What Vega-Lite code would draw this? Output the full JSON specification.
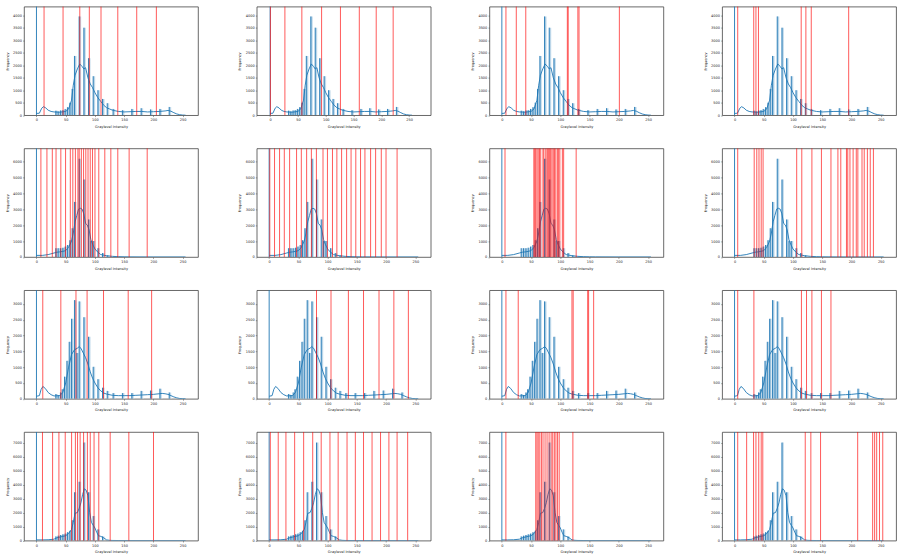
{
  "$schema": "https://vega.github.io/schema/vega-lite/v6.json",
  "padding": {"left": 4, "top": 5.6, "right": 0, "bottom": 0},
  "background": "white",
  "columns": 4,
  "spacing": {"row": 18.8, "column": 37.7},
  "config": {
    "font": "DejaVu Sans",
    "view": {"stroke": "#444", "strokeWidth": 0.8},
    "axis": {"labelFont": "DejaVu Sans", "titleFont": "DejaVu Sans", "labelFontSize": 3.5, "titleFontSize": 3.5, "titleFontWeight": "normal", "labelColor": "#222", "titleColor": "#222", "tickColor": "#444", "tickSize": 1.4, "tickWidth": 0.5, "labelPadding": 1.2, "grid": false, "domain": false, "labelOverlap": false, "labelFlush": false, "format": "d"},
    "axisX": {"minExtent": 7, "maxExtent": 7, "titlePadding": 2.2},
    "axisY": {"minExtent": 12, "maxExtent": 12, "titlePadding": 2.9}
  },
  "datasets": {
    "s1": [{"g":33,"f":180},{"g":37,"f":150},{"g":41,"f":190},{"g":45,"f":200},{"g":49,"f":250},{"g":53,"f":320},{"g":57,"f":500},{"g":61,"f":1050},{"g":65,"f":2370},{"g":73,"f":3950},{"g":81,"f":3500},{"g":89,"f":2280},{"g":97,"f":1560},{"g":105,"f":1000},{"g":113,"f":650},{"g":121,"f":480},{"g":131,"f":250},{"g":147,"f":200},{"g":163,"f":250},{"g":179,"f":280},{"g":195,"f":230},{"g":211,"f":250},{"g":227,"f":330}],
    "c1": [{"g":0,"f":70},{"g":5,"f":80},{"g":9,"f":280},{"g":12,"f":340},{"g":16,"f":290},{"g":20,"f":200},{"g":25,"f":150},{"g":30,"f":130},{"g":40,"f":120},{"g":50,"f":150},{"g":55,"f":250},{"g":60,"f":600},{"g":63,"f":1200},{"g":66,"f":1600},{"g":70,"f":1850},{"g":74,"f":2050},{"g":78,"f":1950},{"g":81,"f":1850},{"g":84,"f":1900},{"g":88,"f":1500},{"g":92,"f":1250},{"g":96,"f":1100},{"g":100,"f":900},{"g":105,"f":700},{"g":110,"f":550},{"g":115,"f":400},{"g":120,"f":300},{"g":125,"f":250},{"g":130,"f":200},{"g":140,"f":150},{"g":150,"f":130},{"g":160,"f":140},{"g":170,"f":150},{"g":180,"f":150},{"g":190,"f":130},{"g":200,"f":140},{"g":210,"f":150},{"g":220,"f":170},{"g":225,"f":190},{"g":230,"f":160},{"g":235,"f":100},{"g":240,"f":50},{"g":245,"f":20},{"g":250,"f":5},{"g":255,"f":0}],
    "s2": [{"g":33,"f":550},{"g":37,"f":550},{"g":41,"f":550},{"g":45,"f":580},{"g":49,"f":650},{"g":53,"f":750},{"g":57,"f":1050},{"g":61,"f":1800},{"g":65,"f":3450},{"g":73,"f":6150},{"g":81,"f":4850},{"g":89,"f":2350},{"g":93,"f":1000},{"g":97,"f":1000},{"g":105,"f":550},{"g":113,"f":250},{"g":121,"f":100}],
    "c2": [{"g":0,"f":100},{"g":10,"f":100},{"g":20,"f":150},{"g":30,"f":250},{"g":35,"f":300},{"g":40,"f":320},{"g":45,"f":350},{"g":50,"f":400},{"g":55,"f":600},{"g":60,"f":1000},{"g":63,"f":1500},{"g":66,"f":2200},{"g":69,"f":2600},{"g":72,"f":3000},{"g":75,"f":3050},{"g":78,"f":3000},{"g":81,"f":2700},{"g":84,"f":2100},{"g":87,"f":2000},{"g":90,"f":1700},{"g":93,"f":1100},{"g":96,"f":800},{"g":100,"f":500},{"g":105,"f":300},{"g":110,"f":150},{"g":120,"f":80},{"g":130,"f":40},{"g":140,"f":20},{"g":150,"f":10},{"g":160,"f":5},{"g":200,"f":0},{"g":255,"f":0}],
    "s3": [{"g":33,"f":150},{"g":37,"f":120},{"g":41,"f":200},{"g":44,"f":300},{"g":48,"f":700},{"g":52,"f":1200},{"g":56,"f":1800},{"g":60,"f":2530},{"g":65,"f":3120},{"g":69,"f":1450},{"g":73,"f":3080},{"g":81,"f":2580},{"g":89,"f":1960},{"g":97,"f":1010},{"g":105,"f":620},{"g":113,"f":350},{"g":121,"f":250},{"g":131,"f":180},{"g":147,"f":180},{"g":163,"f":180},{"g":179,"f":250},{"g":195,"f":260},{"g":211,"f":320},{"g":227,"f":200}],
    "c3": [{"g":0,"f":80},{"g":5,"f":100},{"g":8,"f":300},{"g":11,"f":390},{"g":15,"f":330},{"g":20,"f":200},{"g":25,"f":130},{"g":30,"f":90},{"g":40,"f":100},{"g":45,"f":200},{"g":50,"f":500},{"g":55,"f":1000},{"g":60,"f":1400},{"g":65,"f":1550},{"g":70,"f":1600},{"g":73,"f":1650},{"g":76,"f":1600},{"g":80,"f":1450},{"g":84,"f":1300},{"g":88,"f":1100},{"g":92,"f":850},{"g":96,"f":650},{"g":100,"f":500},{"g":105,"f":350},{"g":110,"f":250},{"g":115,"f":180},{"g":120,"f":150},{"g":130,"f":110},{"g":140,"f":100},{"g":150,"f":100},{"g":160,"f":100},{"g":170,"f":110},{"g":180,"f":120},{"g":190,"f":130},{"g":200,"f":140},{"g":210,"f":160},{"g":215,"f":170},{"g":220,"f":160},{"g":225,"f":140},{"g":230,"f":100},{"g":235,"f":60},{"g":240,"f":30},{"g":245,"f":10},{"g":250,"f":3},{"g":255,"f":0}],
    "s4": [{"g":33,"f":300},{"g":37,"f":350},{"g":41,"f":400},{"g":45,"f":450},{"g":49,"f":500},{"g":53,"f":600},{"g":57,"f":700},{"g":61,"f":1450},{"g":65,"f":3450},{"g":73,"f":4200},{"g":81,"f":7000},{"g":89,"f":3450},{"g":97,"f":1750},{"g":105,"f":800},{"g":113,"f":300}],
    "c4": [{"g":0,"f":50},{"g":10,"f":50},{"g":20,"f":60},{"g":30,"f":100},{"g":35,"f":200},{"g":40,"f":250},{"g":45,"f":300},{"g":50,"f":350},{"g":55,"f":500},{"g":60,"f":800},{"g":63,"f":1300},{"g":66,"f":1950},{"g":70,"f":2000},{"g":73,"f":2300},{"g":76,"f":2700},{"g":79,"f":3300},{"g":82,"f":3700},{"g":85,"f":3600},{"g":88,"f":3200},{"g":91,"f":2000},{"g":94,"f":1300},{"g":97,"f":1100},{"g":100,"f":900},{"g":103,"f":600},{"g":106,"f":350},{"g":110,"f":300},{"g":115,"f":200},{"g":120,"f":50},{"g":125,"f":20},{"g":130,"f":10},{"g":140,"f":5},{"g":150,"f":0},{"g":255,"f":0}],
    "t11": [{"g":13},{"g":45.5},{"g":74.1},{"g":90.4},{"g":110.4},{"g":139.1},{"g":171.5},{"g":205.1}],
    "t12": [{"g":0.5},{"g":26.5},{"g":57},{"g":92.5},{"g":126.4},{"g":160.3},{"g":190.7},{"g":221.2}],
    "t13": [{"g":7},{"g":24.7},{"g":40.9},{"g":112},{"g":113.5},{"g":130},{"g":132},{"g":201}],
    "t14": [{"g":5.4},{"g":32.8},{"g":36.6},{"g":40.9},{"g":114},{"g":122},{"g":131.2},{"g":195.2}],
    "t21": [{"g":7.6},{"g":17.9},{"g":27.1},{"g":33.5},{"g":41.7},{"g":49.8},{"g":57.9},{"g":62.2},{"g":66.6},{"g":70.9},{"g":73.1},{"g":76.8},{"g":80.6},{"g":84.4},{"g":88.2},{"g":92},{"g":95.8},{"g":100.1},{"g":106.6},{"g":116.9},{"g":127.2},{"g":139.1},{"g":158.5},{"g":189.4}],
    "t22": [{"g":1.1},{"g":9.2},{"g":17.8},{"g":25.9},{"g":35},{"g":46.9},{"g":55},{"g":64.1},{"g":72.2},{"g":80.8},{"g":92.1},{"g":99.7},{"g":108.3},{"g":115.8},{"g":123.9},{"g":132.5},{"g":140.1},{"g":148.2},{"g":156.3},{"g":163.8},{"g":173.5},{"g":182.1},{"g":191.8},{"g":199.9},{"g":218.8}],
    "t23": [{"g":5.4},{"g":54.7},{"g":56.3},{"g":57.9},{"g":60.1},{"g":62.2},{"g":64.4},{"g":66.5},{"g":70.3},{"g":71.9},{"g":75.1},{"g":77.3},{"g":78.9},{"g":80.5},{"g":82.1},{"g":83.7},{"g":85.8},{"g":88},{"g":90.1},{"g":92.3},{"g":95},{"g":97.1},{"g":99.2},{"g":103.5},{"g":105.7},{"g":127.1}],
    "t24": [{"g":5.4},{"g":33.6},{"g":38},{"g":41.8},{"g":45.6},{"g":48.8},{"g":106.3},{"g":115},{"g":132.3},{"g":148.6},{"g":164.9},{"g":176.8},{"g":181.7},{"g":191.4},{"g":193.6},{"g":197.4},{"g":202.8},{"g":208.2},{"g":210.9},{"g":218},{"g":221.8},{"g":227.2},{"g":232.1},{"g":237.5}],
    "t31": [{"g":10.8},{"g":41.7},{"g":67.6},{"g":86.6},{"g":114.7},{"g":156.9},{"g":197}],
    "t32": [{"g":81},{"g":105.8},{"g":135.5},{"g":161.4},{"g":187.9},{"g":213.3},{"g":238.1}],
    "t33": [{"g":7},{"g":28},{"g":119.9},{"g":122},{"g":146.8},{"g":148.4},{"g":157}],
    "t34": [{"g":5.4},{"g":33.1},{"g":114.4},{"g":123.1},{"g":132.3},{"g":148.6},{"g":164.9}],
    "t41": [{"g":10.3},{"g":27.6},{"g":38.4},{"g":49.2},{"g":60.1},{"g":66.6},{"g":70.3},{"g":74.7},{"g":80.6},{"g":87.1},{"g":92},{"g":98.5},{"g":106.6},{"g":126.1},{"g":158},{"g":200.2}],
    "t42": [{"g":2},{"g":15.5},{"g":28.7},{"g":43.6},{"g":59},{"g":74.5},{"g":89},{"g":104},{"g":118},{"g":133.2},{"g":147.4},{"g":161.4},{"g":176},{"g":190.5},{"g":204.8},{"g":218.8},{"g":236.9}],
    "t43": [{"g":6.9},{"g":58},{"g":60.1},{"g":62.2},{"g":64.9},{"g":67.7},{"g":70.4},{"g":73.9},{"g":77.3},{"g":80.8},{"g":84.3},{"g":87},{"g":89.8},{"g":92.5},{"g":95.3},{"g":98.1},{"g":121.5}],
    "t44": [{"g":5.4},{"g":20.7},{"g":32.5},{"g":36.6},{"g":41.4},{"g":45.6},{"g":48.3},{"g":120.9},{"g":130.5},{"g":147.1},{"g":210.6},{"g":236.2},{"g":239.6},{"g":243.1},{"g":247.9},{"g":253.5}],
    "bg": [{"g":0}]
  },
  "concat": [
    {"width":174,"height":108.6,"layer":[
      {"data":{"name":"s1"},"mark":{"type":"bar","width":2.4,"xOffset":1.4,"clip":true,"fill":{"gradient":"linear","x1":0,"y1":0,"x2":1,"y2":0,"stops":[{"offset":0,"color":"#1f77b4"},{"offset":1,"color":"#ffffff"}]},"fillOpacity":0.55},
       "encoding":{"x":{"field":"g","type":"quantitative","scale":{"domain":[-12.75,267.75],"nice":false,"zero":false},"axis":{"values":[0,50,100,150,200,250],"title":"Graylevel Intensity","labelOverlap":false}},"y":{"field":"f","type":"quantitative","scale":{"domain":[0,4344],"nice":false},"axis":{"values":[0,500,1000,1500,2000,2500,3000,3500,4000],"title":"Frequency","labelOverlap":false}}}},
      {"data":{"name":"s1"},"mark":{"type":"rule","stroke":"#1f77b4","strokeWidth":0.9,"clip":true},"encoding":{"x":{"field":"g","type":"quantitative","axis":{"values":[0,50,100,150,200,250],"title":"Graylevel Intensity","labelOverlap":false}},"y":{"field":"f","type":"quantitative","axis":{"values":[0,500,1000,1500,2000,2500,3000,3500,4000],"title":"Frequency","labelOverlap":false}},"y2":{"datum":0}}},
      {"data":{"name":"c1"},"mark":{"type":"line","color":"#1f77b4","strokeWidth":0.9,"clip":true},"encoding":{"x":{"field":"g","type":"quantitative","axis":{"values":[0,50,100,150,200,250],"title":"Graylevel Intensity","labelOverlap":false}},"y":{"field":"f","type":"quantitative","axis":{"values":[0,500,1000,1500,2000,2500,3000,3500,4000],"title":"Frequency","labelOverlap":false}}}},
      {"data":{"name":"bg"},"mark":{"type":"rule","stroke":"#1f77b4","strokeWidth":0.9},"encoding":{"x":{"field":"g","type":"quantitative","axis":{"values":[0,50,100,150,200,250],"title":"Graylevel Intensity","labelOverlap":false}}}},
      {"data":{"name":"t11"},"mark":{"type":"rule","stroke":"#ff0000","strokeWidth":1,"strokeOpacity":0.65},"encoding":{"x":{"field":"g","type":"quantitative","axis":{"values":[0,50,100,150,200,250],"title":"Graylevel Intensity","labelOverlap":false}}}}
    ]},
    {"width":174,"height":108.6,"layer":[
      {"data":{"name":"s1"},"mark":{"type":"bar","width":2.4,"xOffset":1.4,"clip":true,"fill":{"gradient":"linear","x1":0,"y1":0,"x2":1,"y2":0,"stops":[{"offset":0,"color":"#1f77b4"},{"offset":1,"color":"#ffffff"}]},"fillOpacity":0.55},
       "encoding":{"x":{"field":"g","type":"quantitative","scale":{"domain":[-15.2,279.7],"nice":false,"zero":false},"axis":{"values":[0,50,100,150,200,250],"title":"Graylevel Intensity","labelOverlap":false}},"y":{"field":"f","type":"quantitative","scale":{"domain":[0,4344],"nice":false},"axis":{"values":[0,500,1000,1500,2000,2500,3000,3500,4000],"title":"Frequency","labelOverlap":false}}}},
      {"data":{"name":"s1"},"mark":{"type":"rule","stroke":"#1f77b4","strokeWidth":0.9,"clip":true},"encoding":{"x":{"field":"g","type":"quantitative","axis":{"values":[0,50,100,150,200,250],"title":"Graylevel Intensity","labelOverlap":false}},"y":{"field":"f","type":"quantitative","axis":{"values":[0,500,1000,1500,2000,2500,3000,3500,4000],"title":"Frequency","labelOverlap":false}},"y2":{"datum":0}}},
      {"data":{"name":"c1"},"mark":{"type":"line","color":"#1f77b4","strokeWidth":0.9,"clip":true},"encoding":{"x":{"field":"g","type":"quantitative","axis":{"values":[0,50,100,150,200,250],"title":"Graylevel Intensity","labelOverlap":false}},"y":{"field":"f","type":"quantitative","axis":{"values":[0,500,1000,1500,2000,2500,3000,3500,4000],"title":"Frequency","labelOverlap":false}}}},
      {"data":{"name":"bg"},"mark":{"type":"rule","stroke":"#1f77b4","strokeWidth":0.9},"encoding":{"x":{"field":"g","type":"quantitative","axis":{"values":[0,50,100,150,200,250],"title":"Graylevel Intensity","labelOverlap":false}}}},
      {"data":{"name":"t12"},"mark":{"type":"rule","stroke":"#ff0000","strokeWidth":1,"strokeOpacity":0.65},"encoding":{"x":{"field":"g","type":"quantitative","axis":{"values":[0,50,100,150,200,250],"title":"Graylevel Intensity","labelOverlap":false}}}}
    ]},
    {"width":174,"height":108.6,"layer":[
      {"data":{"name":"s1"},"mark":{"type":"bar","width":2.4,"xOffset":1.4,"clip":true,"fill":{"gradient":"linear","x1":0,"y1":0,"x2":1,"y2":0,"stops":[{"offset":0,"color":"#1f77b4"},{"offset":1,"color":"#ffffff"}]},"fillOpacity":0.55},
       "encoding":{"x":{"field":"g","type":"quantitative","scale":{"domain":[-12.75,267.75],"nice":false,"zero":false},"axis":{"values":[0,50,100,150,200,250],"title":"Graylevel Intensity","labelOverlap":false}},"y":{"field":"f","type":"quantitative","scale":{"domain":[0,4344],"nice":false},"axis":{"values":[0,500,1000,1500,2000,2500,3000,3500,4000],"title":"Frequency","labelOverlap":false}}}},
      {"data":{"name":"s1"},"mark":{"type":"rule","stroke":"#1f77b4","strokeWidth":0.9,"clip":true},"encoding":{"x":{"field":"g","type":"quantitative","axis":{"values":[0,50,100,150,200,250],"title":"Graylevel Intensity","labelOverlap":false}},"y":{"field":"f","type":"quantitative","axis":{"values":[0,500,1000,1500,2000,2500,3000,3500,4000],"title":"Frequency","labelOverlap":false}},"y2":{"datum":0}}},
      {"data":{"name":"c1"},"mark":{"type":"line","color":"#1f77b4","strokeWidth":0.9,"clip":true},"encoding":{"x":{"field":"g","type":"quantitative","axis":{"values":[0,50,100,150,200,250],"title":"Graylevel Intensity","labelOverlap":false}},"y":{"field":"f","type":"quantitative","axis":{"values":[0,500,1000,1500,2000,2500,3000,3500,4000],"title":"Frequency","labelOverlap":false}}}},
      {"data":{"name":"bg"},"mark":{"type":"rule","stroke":"#1f77b4","strokeWidth":0.9},"encoding":{"x":{"field":"g","type":"quantitative","axis":{"values":[0,50,100,150,200,250],"title":"Graylevel Intensity","labelOverlap":false}}}},
      {"data":{"name":"t13"},"mark":{"type":"rule","stroke":"#ff0000","strokeWidth":1,"strokeOpacity":0.65},"encoding":{"x":{"field":"g","type":"quantitative","axis":{"values":[0,50,100,150,200,250],"title":"Graylevel Intensity","labelOverlap":false}}}}
    ]},
    {"width":174,"height":108.6,"layer":[
      {"data":{"name":"s1"},"mark":{"type":"bar","width":2.4,"xOffset":1.4,"clip":true,"fill":{"gradient":"linear","x1":0,"y1":0,"x2":1,"y2":0,"stops":[{"offset":0,"color":"#1f77b4"},{"offset":1,"color":"#ffffff"}]},"fillOpacity":0.55},
       "encoding":{"x":{"field":"g","type":"quantitative","scale":{"domain":[-12.75,267.75],"nice":false,"zero":false},"axis":{"values":[0,50,100,150,200,250],"title":"Graylevel Intensity","labelOverlap":false}},"y":{"field":"f","type":"quantitative","scale":{"domain":[0,4344],"nice":false},"axis":{"values":[0,500,1000,1500,2000,2500,3000,3500,4000],"title":"Frequency","labelOverlap":false}}}},
      {"data":{"name":"s1"},"mark":{"type":"rule","stroke":"#1f77b4","strokeWidth":0.9,"clip":true},"encoding":{"x":{"field":"g","type":"quantitative","axis":{"values":[0,50,100,150,200,250],"title":"Graylevel Intensity","labelOverlap":false}},"y":{"field":"f","type":"quantitative","axis":{"values":[0,500,1000,1500,2000,2500,3000,3500,4000],"title":"Frequency","labelOverlap":false}},"y2":{"datum":0}}},
      {"data":{"name":"c1"},"mark":{"type":"line","color":"#1f77b4","strokeWidth":0.9,"clip":true},"encoding":{"x":{"field":"g","type":"quantitative","axis":{"values":[0,50,100,150,200,250],"title":"Graylevel Intensity","labelOverlap":false}},"y":{"field":"f","type":"quantitative","axis":{"values":[0,500,1000,1500,2000,2500,3000,3500,4000],"title":"Frequency","labelOverlap":false}}}},
      {"data":{"name":"bg"},"mark":{"type":"rule","stroke":"#1f77b4","strokeWidth":0.9},"encoding":{"x":{"field":"g","type":"quantitative","axis":{"values":[0,50,100,150,200,250],"title":"Graylevel Intensity","labelOverlap":false}}}},
      {"data":{"name":"t14"},"mark":{"type":"rule","stroke":"#ff0000","strokeWidth":1,"strokeOpacity":0.65},"encoding":{"x":{"field":"g","type":"quantitative","axis":{"values":[0,50,100,150,200,250],"title":"Graylevel Intensity","labelOverlap":false}}}}
    ]},
    {"width":174,"height":108.6,"layer":[
      {"data":{"name":"s2"},"mark":{"type":"bar","width":2.4,"xOffset":1.4,"clip":true,"fill":{"gradient":"linear","x1":0,"y1":0,"x2":1,"y2":0,"stops":[{"offset":0,"color":"#1f77b4"},{"offset":1,"color":"#ffffff"}]},"fillOpacity":0.55},
       "encoding":{"x":{"field":"g","type":"quantitative","scale":{"domain":[-12.75,267.75],"nice":false,"zero":false},"axis":{"values":[0,50,100,150,200,250],"title":"Graylevel Intensity","labelOverlap":false}},"y":{"field":"f","type":"quantitative","scale":{"domain":[0,6800],"nice":false},"axis":{"values":[0,1000,2000,3000,4000,5000,6000],"title":"Frequency","labelOverlap":false}}}},
      {"data":{"name":"s2"},"mark":{"type":"rule","stroke":"#1f77b4","strokeWidth":0.9,"clip":true},"encoding":{"x":{"field":"g","type":"quantitative","axis":{"values":[0,50,100,150,200,250],"title":"Graylevel Intensity","labelOverlap":false}},"y":{"field":"f","type":"quantitative","axis":{"values":[0,1000,2000,3000,4000,5000,6000],"title":"Frequency","labelOverlap":false}},"y2":{"datum":0}}},
      {"data":{"name":"c2"},"mark":{"type":"line","color":"#1f77b4","strokeWidth":0.9,"clip":true},"encoding":{"x":{"field":"g","type":"quantitative","axis":{"values":[0,50,100,150,200,250],"title":"Graylevel Intensity","labelOverlap":false}},"y":{"field":"f","type":"quantitative","axis":{"values":[0,1000,2000,3000,4000,5000,6000],"title":"Frequency","labelOverlap":false}}}},
      {"data":{"name":"bg"},"mark":{"type":"rule","stroke":"#1f77b4","strokeWidth":0.9},"encoding":{"x":{"field":"g","type":"quantitative","axis":{"values":[0,50,100,150,200,250],"title":"Graylevel Intensity","labelOverlap":false}}}},
      {"data":{"name":"t21"},"mark":{"type":"rule","stroke":"#ff0000","strokeWidth":1,"strokeOpacity":0.65},"encoding":{"x":{"field":"g","type":"quantitative","axis":{"values":[0,50,100,150,200,250],"title":"Graylevel Intensity","labelOverlap":false}}}}
    ]},
    {"width":174,"height":108.6,"layer":[
      {"data":{"name":"s2"},"mark":{"type":"bar","width":2.4,"xOffset":1.4,"clip":true,"fill":{"gradient":"linear","x1":0,"y1":0,"x2":1,"y2":0,"stops":[{"offset":0,"color":"#1f77b4"},{"offset":1,"color":"#ffffff"}]},"fillOpacity":0.55},
       "encoding":{"x":{"field":"g","type":"quantitative","scale":{"domain":[-12.75,267.75],"nice":false,"zero":false},"axis":{"values":[0,50,100,150,200,250],"title":"Graylevel Intensity","labelOverlap":false}},"y":{"field":"f","type":"quantitative","scale":{"domain":[0,6800],"nice":false},"axis":{"values":[0,1000,2000,3000,4000,5000,6000],"title":"Frequency","labelOverlap":false}}}},
      {"data":{"name":"s2"},"mark":{"type":"rule","stroke":"#1f77b4","strokeWidth":0.9,"clip":true},"encoding":{"x":{"field":"g","type":"quantitative","axis":{"values":[0,50,100,150,200,250],"title":"Graylevel Intensity","labelOverlap":false}},"y":{"field":"f","type":"quantitative","axis":{"values":[0,1000,2000,3000,4000,5000,6000],"title":"Frequency","labelOverlap":false}},"y2":{"datum":0}}},
      {"data":{"name":"c2"},"mark":{"type":"line","color":"#1f77b4","strokeWidth":0.9,"clip":true},"encoding":{"x":{"field":"g","type":"quantitative","axis":{"values":[0,50,100,150,200,250],"title":"Graylevel Intensity","labelOverlap":false}},"y":{"field":"f","type":"quantitative","axis":{"values":[0,1000,2000,3000,4000,5000,6000],"title":"Frequency","labelOverlap":false}}}},
      {"data":{"name":"bg"},"mark":{"type":"rule","stroke":"#1f77b4","strokeWidth":0.9},"encoding":{"x":{"field":"g","type":"quantitative","axis":{"values":[0,50,100,150,200,250],"title":"Graylevel Intensity","labelOverlap":false}}}},
      {"data":{"name":"t22"},"mark":{"type":"rule","stroke":"#ff0000","strokeWidth":1,"strokeOpacity":0.65},"encoding":{"x":{"field":"g","type":"quantitative","axis":{"values":[0,50,100,150,200,250],"title":"Graylevel Intensity","labelOverlap":false}}}}
    ]},
    {"width":174,"height":108.6,"layer":[
      {"data":{"name":"s2"},"mark":{"type":"bar","width":2.4,"xOffset":1.4,"clip":true,"fill":{"gradient":"linear","x1":0,"y1":0,"x2":1,"y2":0,"stops":[{"offset":0,"color":"#1f77b4"},{"offset":1,"color":"#ffffff"}]},"fillOpacity":0.55},
       "encoding":{"x":{"field":"g","type":"quantitative","scale":{"domain":[-12.75,267.75],"nice":false,"zero":false},"axis":{"values":[0,50,100,150,200,250],"title":"Graylevel Intensity","labelOverlap":false}},"y":{"field":"f","type":"quantitative","scale":{"domain":[0,6800],"nice":false},"axis":{"values":[0,1000,2000,3000,4000,5000,6000],"title":"Frequency","labelOverlap":false}}}},
      {"data":{"name":"s2"},"mark":{"type":"rule","stroke":"#1f77b4","strokeWidth":0.9,"clip":true},"encoding":{"x":{"field":"g","type":"quantitative","axis":{"values":[0,50,100,150,200,250],"title":"Graylevel Intensity","labelOverlap":false}},"y":{"field":"f","type":"quantitative","axis":{"values":[0,1000,2000,3000,4000,5000,6000],"title":"Frequency","labelOverlap":false}},"y2":{"datum":0}}},
      {"data":{"name":"c2"},"mark":{"type":"line","color":"#1f77b4","strokeWidth":0.9,"clip":true},"encoding":{"x":{"field":"g","type":"quantitative","axis":{"values":[0,50,100,150,200,250],"title":"Graylevel Intensity","labelOverlap":false}},"y":{"field":"f","type":"quantitative","axis":{"values":[0,1000,2000,3000,4000,5000,6000],"title":"Frequency","labelOverlap":false}}}},
      {"data":{"name":"bg"},"mark":{"type":"rule","stroke":"#1f77b4","strokeWidth":0.9},"encoding":{"x":{"field":"g","type":"quantitative","axis":{"values":[0,50,100,150,200,250],"title":"Graylevel Intensity","labelOverlap":false}}}},
      {"data":{"name":"t23"},"mark":{"type":"rule","stroke":"#ff0000","strokeWidth":1,"strokeOpacity":0.65},"encoding":{"x":{"field":"g","type":"quantitative","axis":{"values":[0,50,100,150,200,250],"title":"Graylevel Intensity","labelOverlap":false}}}}
    ]},
    {"width":174,"height":108.6,"layer":[
      {"data":{"name":"s2"},"mark":{"type":"bar","width":2.4,"xOffset":1.4,"clip":true,"fill":{"gradient":"linear","x1":0,"y1":0,"x2":1,"y2":0,"stops":[{"offset":0,"color":"#1f77b4"},{"offset":1,"color":"#ffffff"}]},"fillOpacity":0.55},
       "encoding":{"x":{"field":"g","type":"quantitative","scale":{"domain":[-12.75,267.75],"nice":false,"zero":false},"axis":{"values":[0,50,100,150,200,250],"title":"Graylevel Intensity","labelOverlap":false}},"y":{"field":"f","type":"quantitative","scale":{"domain":[0,6800],"nice":false},"axis":{"values":[0,1000,2000,3000,4000,5000,6000],"title":"Frequency","labelOverlap":false}}}},
      {"data":{"name":"s2"},"mark":{"type":"rule","stroke":"#1f77b4","strokeWidth":0.9,"clip":true},"encoding":{"x":{"field":"g","type":"quantitative","axis":{"values":[0,50,100,150,200,250],"title":"Graylevel Intensity","labelOverlap":false}},"y":{"field":"f","type":"quantitative","axis":{"values":[0,1000,2000,3000,4000,5000,6000],"title":"Frequency","labelOverlap":false}},"y2":{"datum":0}}},
      {"data":{"name":"c2"},"mark":{"type":"line","color":"#1f77b4","strokeWidth":0.9,"clip":true},"encoding":{"x":{"field":"g","type":"quantitative","axis":{"values":[0,50,100,150,200,250],"title":"Graylevel Intensity","labelOverlap":false}},"y":{"field":"f","type":"quantitative","axis":{"values":[0,1000,2000,3000,4000,5000,6000],"title":"Frequency","labelOverlap":false}}}},
      {"data":{"name":"bg"},"mark":{"type":"rule","stroke":"#1f77b4","strokeWidth":0.9},"encoding":{"x":{"field":"g","type":"quantitative","axis":{"values":[0,50,100,150,200,250],"title":"Graylevel Intensity","labelOverlap":false}}}},
      {"data":{"name":"t24"},"mark":{"type":"rule","stroke":"#ff0000","strokeWidth":1,"strokeOpacity":0.65},"encoding":{"x":{"field":"g","type":"quantitative","axis":{"values":[0,50,100,150,200,250],"title":"Graylevel Intensity","labelOverlap":false}}}}
    ]},
    {"width":174,"height":108.6,"layer":[
      {"data":{"name":"s3"},"mark":{"type":"bar","width":2.4,"xOffset":1.4,"clip":true,"fill":{"gradient":"linear","x1":0,"y1":0,"x2":1,"y2":0,"stops":[{"offset":0,"color":"#1f77b4"},{"offset":1,"color":"#ffffff"}]},"fillOpacity":0.55},
       "encoding":{"x":{"field":"g","type":"quantitative","scale":{"domain":[-12.75,267.75],"nice":false,"zero":false},"axis":{"values":[0,50,100,150,200,250],"title":"Graylevel Intensity","labelOverlap":false}},"y":{"field":"f","type":"quantitative","scale":{"domain":[0,3434],"nice":false},"axis":{"values":[0,500,1000,1500,2000,2500,3000],"title":"Frequency","labelOverlap":false}}}},
      {"data":{"name":"s3"},"mark":{"type":"rule","stroke":"#1f77b4","strokeWidth":0.9,"clip":true},"encoding":{"x":{"field":"g","type":"quantitative","axis":{"values":[0,50,100,150,200,250],"title":"Graylevel Intensity","labelOverlap":false}},"y":{"field":"f","type":"quantitative","axis":{"values":[0,500,1000,1500,2000,2500,3000],"title":"Frequency","labelOverlap":false}},"y2":{"datum":0}}},
      {"data":{"name":"c3"},"mark":{"type":"line","color":"#1f77b4","strokeWidth":0.9,"clip":true},"encoding":{"x":{"field":"g","type":"quantitative","axis":{"values":[0,50,100,150,200,250],"title":"Graylevel Intensity","labelOverlap":false}},"y":{"field":"f","type":"quantitative","axis":{"values":[0,500,1000,1500,2000,2500,3000],"title":"Frequency","labelOverlap":false}}}},
      {"data":{"name":"bg"},"mark":{"type":"rule","stroke":"#1f77b4","strokeWidth":0.9},"encoding":{"x":{"field":"g","type":"quantitative","axis":{"values":[0,50,100,150,200,250],"title":"Graylevel Intensity","labelOverlap":false}}}},
      {"data":{"name":"t31"},"mark":{"type":"rule","stroke":"#ff0000","strokeWidth":1,"strokeOpacity":0.65},"encoding":{"x":{"field":"g","type":"quantitative","axis":{"values":[0,50,100,150,200,250],"title":"Graylevel Intensity","labelOverlap":false}}}}
    ]},
    {"width":174,"height":108.6,"layer":[
      {"data":{"name":"s3"},"mark":{"type":"bar","width":2.4,"xOffset":1.4,"clip":true,"fill":{"gradient":"linear","x1":0,"y1":0,"x2":1,"y2":0,"stops":[{"offset":0,"color":"#1f77b4"},{"offset":1,"color":"#ffffff"}]},"fillOpacity":0.55},
       "encoding":{"x":{"field":"g","type":"quantitative","scale":{"domain":[-12.75,267.75],"nice":false,"zero":false},"axis":{"values":[0,50,100,150,200,250],"title":"Graylevel Intensity","labelOverlap":false}},"y":{"field":"f","type":"quantitative","scale":{"domain":[0,3434],"nice":false},"axis":{"values":[0,500,1000,1500,2000,2500,3000],"title":"Frequency","labelOverlap":false}}}},
      {"data":{"name":"s3"},"mark":{"type":"rule","stroke":"#1f77b4","strokeWidth":0.9,"clip":true},"encoding":{"x":{"field":"g","type":"quantitative","axis":{"values":[0,50,100,150,200,250],"title":"Graylevel Intensity","labelOverlap":false}},"y":{"field":"f","type":"quantitative","axis":{"values":[0,500,1000,1500,2000,2500,3000],"title":"Frequency","labelOverlap":false}},"y2":{"datum":0}}},
      {"data":{"name":"c3"},"mark":{"type":"line","color":"#1f77b4","strokeWidth":0.9,"clip":true},"encoding":{"x":{"field":"g","type":"quantitative","axis":{"values":[0,50,100,150,200,250],"title":"Graylevel Intensity","labelOverlap":false}},"y":{"field":"f","type":"quantitative","axis":{"values":[0,500,1000,1500,2000,2500,3000],"title":"Frequency","labelOverlap":false}}}},
      {"data":{"name":"bg"},"mark":{"type":"rule","stroke":"#1f77b4","strokeWidth":0.9},"encoding":{"x":{"field":"g","type":"quantitative","axis":{"values":[0,50,100,150,200,250],"title":"Graylevel Intensity","labelOverlap":false}}}},
      {"data":{"name":"t32"},"mark":{"type":"rule","stroke":"#ff0000","strokeWidth":1,"strokeOpacity":0.65},"encoding":{"x":{"field":"g","type":"quantitative","axis":{"values":[0,50,100,150,200,250],"title":"Graylevel Intensity","labelOverlap":false}}}}
    ]},
    {"width":174,"height":108.6,"layer":[
      {"data":{"name":"s3"},"mark":{"type":"bar","width":2.4,"xOffset":1.4,"clip":true,"fill":{"gradient":"linear","x1":0,"y1":0,"x2":1,"y2":0,"stops":[{"offset":0,"color":"#1f77b4"},{"offset":1,"color":"#ffffff"}]},"fillOpacity":0.55},
       "encoding":{"x":{"field":"g","type":"quantitative","scale":{"domain":[-12.75,267.75],"nice":false,"zero":false},"axis":{"values":[0,50,100,150,200,250],"title":"Graylevel Intensity","labelOverlap":false}},"y":{"field":"f","type":"quantitative","scale":{"domain":[0,3434],"nice":false},"axis":{"values":[0,500,1000,1500,2000,2500,3000],"title":"Frequency","labelOverlap":false}}}},
      {"data":{"name":"s3"},"mark":{"type":"rule","stroke":"#1f77b4","strokeWidth":0.9,"clip":true},"encoding":{"x":{"field":"g","type":"quantitative","axis":{"values":[0,50,100,150,200,250],"title":"Graylevel Intensity","labelOverlap":false}},"y":{"field":"f","type":"quantitative","axis":{"values":[0,500,1000,1500,2000,2500,3000],"title":"Frequency","labelOverlap":false}},"y2":{"datum":0}}},
      {"data":{"name":"c3"},"mark":{"type":"line","color":"#1f77b4","strokeWidth":0.9,"clip":true},"encoding":{"x":{"field":"g","type":"quantitative","axis":{"values":[0,50,100,150,200,250],"title":"Graylevel Intensity","labelOverlap":false}},"y":{"field":"f","type":"quantitative","axis":{"values":[0,500,1000,1500,2000,2500,3000],"title":"Frequency","labelOverlap":false}}}},
      {"data":{"name":"bg"},"mark":{"type":"rule","stroke":"#1f77b4","strokeWidth":0.9},"encoding":{"x":{"field":"g","type":"quantitative","axis":{"values":[0,50,100,150,200,250],"title":"Graylevel Intensity","labelOverlap":false}}}},
      {"data":{"name":"t33"},"mark":{"type":"rule","stroke":"#ff0000","strokeWidth":1,"strokeOpacity":0.65},"encoding":{"x":{"field":"g","type":"quantitative","axis":{"values":[0,50,100,150,200,250],"title":"Graylevel Intensity","labelOverlap":false}}}}
    ]},
    {"width":174,"height":108.6,"layer":[
      {"data":{"name":"s3"},"mark":{"type":"bar","width":2.4,"xOffset":1.4,"clip":true,"fill":{"gradient":"linear","x1":0,"y1":0,"x2":1,"y2":0,"stops":[{"offset":0,"color":"#1f77b4"},{"offset":1,"color":"#ffffff"}]},"fillOpacity":0.55},
       "encoding":{"x":{"field":"g","type":"quantitative","scale":{"domain":[-12.75,267.75],"nice":false,"zero":false},"axis":{"values":[0,50,100,150,200,250],"title":"Graylevel Intensity","labelOverlap":false}},"y":{"field":"f","type":"quantitative","scale":{"domain":[0,3434],"nice":false},"axis":{"values":[0,500,1000,1500,2000,2500,3000],"title":"Frequency","labelOverlap":false}}}},
      {"data":{"name":"s3"},"mark":{"type":"rule","stroke":"#1f77b4","strokeWidth":0.9,"clip":true},"encoding":{"x":{"field":"g","type":"quantitative","axis":{"values":[0,50,100,150,200,250],"title":"Graylevel Intensity","labelOverlap":false}},"y":{"field":"f","type":"quantitative","axis":{"values":[0,500,1000,1500,2000,2500,3000],"title":"Frequency","labelOverlap":false}},"y2":{"datum":0}}},
      {"data":{"name":"c3"},"mark":{"type":"line","color":"#1f77b4","strokeWidth":0.9,"clip":true},"encoding":{"x":{"field":"g","type":"quantitative","axis":{"values":[0,50,100,150,200,250],"title":"Graylevel Intensity","labelOverlap":false}},"y":{"field":"f","type":"quantitative","axis":{"values":[0,500,1000,1500,2000,2500,3000],"title":"Frequency","labelOverlap":false}}}},
      {"data":{"name":"bg"},"mark":{"type":"rule","stroke":"#1f77b4","strokeWidth":0.9},"encoding":{"x":{"field":"g","type":"quantitative","axis":{"values":[0,50,100,150,200,250],"title":"Graylevel Intensity","labelOverlap":false}}}},
      {"data":{"name":"t34"},"mark":{"type":"rule","stroke":"#ff0000","strokeWidth":1,"strokeOpacity":0.65},"encoding":{"x":{"field":"g","type":"quantitative","axis":{"values":[0,50,100,150,200,250],"title":"Graylevel Intensity","labelOverlap":false}}}}
    ]},
    {"width":174,"height":108.6,"layer":[
      {"data":{"name":"s4"},"mark":{"type":"bar","width":2.4,"xOffset":1.4,"clip":true,"fill":{"gradient":"linear","x1":0,"y1":0,"x2":1,"y2":0,"stops":[{"offset":0,"color":"#1f77b4"},{"offset":1,"color":"#ffffff"}]},"fillOpacity":0.55},
       "encoding":{"x":{"field":"g","type":"quantitative","scale":{"domain":[-12.75,267.75],"nice":false,"zero":false},"axis":{"values":[0,50,100,150,200,250],"title":"Graylevel Intensity","labelOverlap":false}},"y":{"field":"f","type":"quantitative","scale":{"domain":[0,7757],"nice":false},"axis":{"values":[0,1000,2000,3000,4000,5000,6000,7000],"title":"Frequency","labelOverlap":false}}}},
      {"data":{"name":"s4"},"mark":{"type":"rule","stroke":"#1f77b4","strokeWidth":0.9,"clip":true},"encoding":{"x":{"field":"g","type":"quantitative","axis":{"values":[0,50,100,150,200,250],"title":"Graylevel Intensity","labelOverlap":false}},"y":{"field":"f","type":"quantitative","axis":{"values":[0,1000,2000,3000,4000,5000,6000,7000],"title":"Frequency","labelOverlap":false}},"y2":{"datum":0}}},
      {"data":{"name":"c4"},"mark":{"type":"line","color":"#1f77b4","strokeWidth":0.9,"clip":true},"encoding":{"x":{"field":"g","type":"quantitative","axis":{"values":[0,50,100,150,200,250],"title":"Graylevel Intensity","labelOverlap":false}},"y":{"field":"f","type":"quantitative","axis":{"values":[0,1000,2000,3000,4000,5000,6000,7000],"title":"Frequency","labelOverlap":false}}}},
      {"data":{"name":"bg"},"mark":{"type":"rule","stroke":"#1f77b4","strokeWidth":0.9},"encoding":{"x":{"field":"g","type":"quantitative","axis":{"values":[0,50,100,150,200,250],"title":"Graylevel Intensity","labelOverlap":false}}}},
      {"data":{"name":"t41"},"mark":{"type":"rule","stroke":"#ff0000","strokeWidth":1,"strokeOpacity":0.65},"encoding":{"x":{"field":"g","type":"quantitative","axis":{"values":[0,50,100,150,200,250],"title":"Graylevel Intensity","labelOverlap":false}}}}
    ]},
    {"width":174,"height":108.6,"layer":[
      {"data":{"name":"s4"},"mark":{"type":"bar","width":2.4,"xOffset":1.4,"clip":true,"fill":{"gradient":"linear","x1":0,"y1":0,"x2":1,"y2":0,"stops":[{"offset":0,"color":"#1f77b4"},{"offset":1,"color":"#ffffff"}]},"fillOpacity":0.55},
       "encoding":{"x":{"field":"g","type":"quantitative","scale":{"domain":[-12.75,267.75],"nice":false,"zero":false},"axis":{"values":[0,50,100,150,200,250],"title":"Graylevel Intensity","labelOverlap":false}},"y":{"field":"f","type":"quantitative","scale":{"domain":[0,7757],"nice":false},"axis":{"values":[0,1000,2000,3000,4000,5000,6000,7000],"title":"Frequency","labelOverlap":false}}}},
      {"data":{"name":"s4"},"mark":{"type":"rule","stroke":"#1f77b4","strokeWidth":0.9,"clip":true},"encoding":{"x":{"field":"g","type":"quantitative","axis":{"values":[0,50,100,150,200,250],"title":"Graylevel Intensity","labelOverlap":false}},"y":{"field":"f","type":"quantitative","axis":{"values":[0,1000,2000,3000,4000,5000,6000,7000],"title":"Frequency","labelOverlap":false}},"y2":{"datum":0}}},
      {"data":{"name":"c4"},"mark":{"type":"line","color":"#1f77b4","strokeWidth":0.9,"clip":true},"encoding":{"x":{"field":"g","type":"quantitative","axis":{"values":[0,50,100,150,200,250],"title":"Graylevel Intensity","labelOverlap":false}},"y":{"field":"f","type":"quantitative","axis":{"values":[0,1000,2000,3000,4000,5000,6000,7000],"title":"Frequency","labelOverlap":false}}}},
      {"data":{"name":"bg"},"mark":{"type":"rule","stroke":"#1f77b4","strokeWidth":0.9},"encoding":{"x":{"field":"g","type":"quantitative","axis":{"values":[0,50,100,150,200,250],"title":"Graylevel Intensity","labelOverlap":false}}}},
      {"data":{"name":"t42"},"mark":{"type":"rule","stroke":"#ff0000","strokeWidth":1,"strokeOpacity":0.65},"encoding":{"x":{"field":"g","type":"quantitative","axis":{"values":[0,50,100,150,200,250],"title":"Graylevel Intensity","labelOverlap":false}}}}
    ]},
    {"width":174,"height":108.6,"layer":[
      {"data":{"name":"s4"},"mark":{"type":"bar","width":2.4,"xOffset":1.4,"clip":true,"fill":{"gradient":"linear","x1":0,"y1":0,"x2":1,"y2":0,"stops":[{"offset":0,"color":"#1f77b4"},{"offset":1,"color":"#ffffff"}]},"fillOpacity":0.55},
       "encoding":{"x":{"field":"g","type":"quantitative","scale":{"domain":[-12.75,267.75],"nice":false,"zero":false},"axis":{"values":[0,50,100,150,200,250],"title":"Graylevel Intensity","labelOverlap":false}},"y":{"field":"f","type":"quantitative","scale":{"domain":[0,7757],"nice":false},"axis":{"values":[0,1000,2000,3000,4000,5000,6000,7000],"title":"Frequency","labelOverlap":false}}}},
      {"data":{"name":"s4"},"mark":{"type":"rule","stroke":"#1f77b4","strokeWidth":0.9,"clip":true},"encoding":{"x":{"field":"g","type":"quantitative","axis":{"values":[0,50,100,150,200,250],"title":"Graylevel Intensity","labelOverlap":false}},"y":{"field":"f","type":"quantitative","axis":{"values":[0,1000,2000,3000,4000,5000,6000,7000],"title":"Frequency","labelOverlap":false}},"y2":{"datum":0}}},
      {"data":{"name":"c4"},"mark":{"type":"line","color":"#1f77b4","strokeWidth":0.9,"clip":true},"encoding":{"x":{"field":"g","type":"quantitative","axis":{"values":[0,50,100,150,200,250],"title":"Graylevel Intensity","labelOverlap":false}},"y":{"field":"f","type":"quantitative","axis":{"values":[0,1000,2000,3000,4000,5000,6000,7000],"title":"Frequency","labelOverlap":false}}}},
      {"data":{"name":"bg"},"mark":{"type":"rule","stroke":"#1f77b4","strokeWidth":0.9},"encoding":{"x":{"field":"g","type":"quantitative","axis":{"values":[0,50,100,150,200,250],"title":"Graylevel Intensity","labelOverlap":false}}}},
      {"data":{"name":"t43"},"mark":{"type":"rule","stroke":"#ff0000","strokeWidth":1,"strokeOpacity":0.65},"encoding":{"x":{"field":"g","type":"quantitative","axis":{"values":[0,50,100,150,200,250],"title":"Graylevel Intensity","labelOverlap":false}}}}
    ]},
    {"width":174,"height":108.6,"layer":[
      {"data":{"name":"s4"},"mark":{"type":"bar","width":2.4,"xOffset":1.4,"clip":true,"fill":{"gradient":"linear","x1":0,"y1":0,"x2":1,"y2":0,"stops":[{"offset":0,"color":"#1f77b4"},{"offset":1,"color":"#ffffff"}]},"fillOpacity":0.55},
       "encoding":{"x":{"field":"g","type":"quantitative","scale":{"domain":[-12.75,267.75],"nice":false,"zero":false},"axis":{"values":[0,50,100,150,200,250],"title":"Graylevel Intensity","labelOverlap":false}},"y":{"field":"f","type":"quantitative","scale":{"domain":[0,7757],"nice":false},"axis":{"values":[0,1000,2000,3000,4000,5000,6000,7000],"title":"Frequency","labelOverlap":false}}}},
      {"data":{"name":"s4"},"mark":{"type":"rule","stroke":"#1f77b4","strokeWidth":0.9,"clip":true},"encoding":{"x":{"field":"g","type":"quantitative","axis":{"values":[0,50,100,150,200,250],"title":"Graylevel Intensity","labelOverlap":false}},"y":{"field":"f","type":"quantitative","axis":{"values":[0,1000,2000,3000,4000,5000,6000,7000],"title":"Frequency","labelOverlap":false}},"y2":{"datum":0}}},
      {"data":{"name":"c4"},"mark":{"type":"line","color":"#1f77b4","strokeWidth":0.9,"clip":true},"encoding":{"x":{"field":"g","type":"quantitative","axis":{"values":[0,50,100,150,200,250],"title":"Graylevel Intensity","labelOverlap":false}},"y":{"field":"f","type":"quantitative","axis":{"values":[0,1000,2000,3000,4000,5000,6000,7000],"title":"Frequency","labelOverlap":false}}}},
      {"data":{"name":"bg"},"mark":{"type":"rule","stroke":"#1f77b4","strokeWidth":0.9},"encoding":{"x":{"field":"g","type":"quantitative","axis":{"values":[0,50,100,150,200,250],"title":"Graylevel Intensity","labelOverlap":false}}}},
      {"data":{"name":"t44"},"mark":{"type":"rule","stroke":"#ff0000","strokeWidth":1,"strokeOpacity":0.65},"encoding":{"x":{"field":"g","type":"quantitative","axis":{"values":[0,50,100,150,200,250],"title":"Graylevel Intensity","labelOverlap":false}}}}
    ]}
  ]
}
